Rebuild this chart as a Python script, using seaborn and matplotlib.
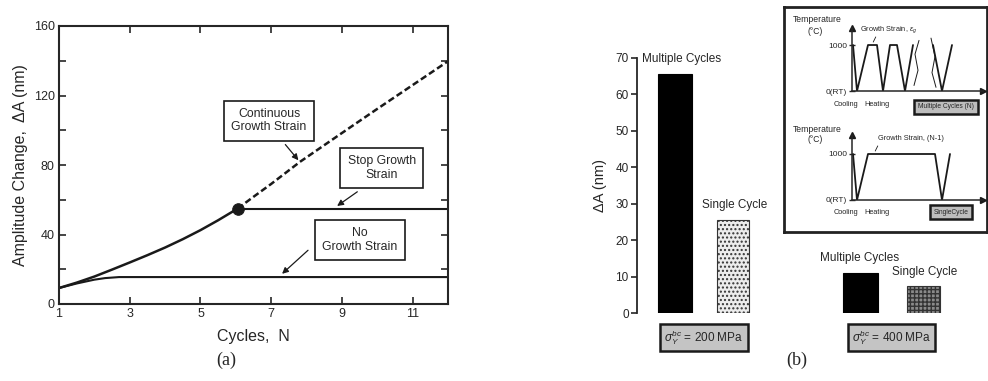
import matplotlib
matplotlib.use("Agg")
import matplotlib.pyplot as plt
import seaborn as sns
import numpy as np

# ---------------- data ----------------
# panel (a)
cont_solid_N = [1.0, 1.5, 2.0, 2.5, 3.0, 3.5, 4.0, 4.5, 5.0, 5.5, 6.05]
cont_solid_A = [9.2, 12.3, 15.8, 19.8, 23.9, 28.1, 32.5, 37.3, 42.5, 48.2, 54.9]
cont_dash_N = [6.05, 6.5, 7.0, 7.82, 9.0, 10.0, 11.0, 12.05]
cont_dash_A = [54.9, 61.7, 69.1, 81.9, 98.4, 112.3, 126.0, 140.4]
stop_N = [6.05, 12.0]
stop_A = [54.9, 54.9]
nogrowth_N = [1.0, 1.5, 2.0, 2.3, 2.7, 12.0]
nogrowth_A = [9.2, 11.8, 14.0, 14.9, 15.5, 15.5]
switch_point = (6.05, 54.9)

# panel (b) bars
bar_labels = ["Multiple Cycles", "Single Cycle", "Multiple Cycles", "Single Cycle"]
bar_values = [65.5, 25.5, 11.0, 7.4]
stress_labels = [r"$\sigma_Y^{bc}$ = 200 MPa", r"$\sigma_Y^{bc}$ = 400 MPa"]

# inset temperature histories (time in arbitrary units, T in deg C)
multi_t1 = [1, 5, 16, 25, 31, 38, 45, 53, 61]
multi_T1 = [1000, 0, 1000, 1000, 0, 1000, 1000, 0, 1000]
multi_t2 = [81, 90, 100]
multi_T2 = [1000, 0, 1000]
single_t = [1, 5, 16, 83, 90, 98]
single_T = [1000, 0, 1000, 1000, 0, 1000]

# ---------------- layout ----------------
W, H = 988, 381
sns.set_theme(style="ticks")
plt.rcParams["font.family"] = ["Liberation Sans", "DejaVu Sans"]
plt.rcParams["mathtext.fontset"] = "custom"
plt.rcParams["mathtext.rm"] = "Liberation Sans"
plt.rcParams["mathtext.it"] = "Liberation Sans:italic"

fig = plt.figure(figsize=(W / 100, H / 100), dpi=100)
fig.patch.set_facecolor("white")


def px_axes(x0, y0, x1, y1, **kw):
    return fig.add_axes([x0 / W, 1 - y1 / H, (x1 - x0) / W, (y1 - y0) / H], **kw)


def ftext(x, y, s, **kw):
    return fig.text(x / W, 1 - y / H, s, **kw)


# ---------------- panel (a) ----------------
ax = px_axes(59, 26, 448, 304)
sns.lineplot(x=cont_solid_N, y=cont_solid_A, ax=ax, color="k", lw=1.8)
sns.lineplot(x=cont_dash_N, y=cont_dash_A, ax=ax, color="k", lw=1.8)
ax.lines[-1].set_dashes([2.6, 1.3])
sns.lineplot(x=stop_N, y=stop_A, ax=ax, color="k", lw=1.5)
sns.lineplot(x=nogrowth_N, y=nogrowth_A, ax=ax, color="k", lw=1.5)
sns.scatterplot(x=[switch_point[0]], y=[switch_point[1]], ax=ax, color="k", s=70,
                zorder=5, edgecolor="k")
ax.set_xlim(1, 12)
ax.set_ylim(0, 160)
ax.set_xticks([1, 3, 5, 7, 9, 11])
ax.set_yticks(range(0, 161, 20))
ax.set_yticklabels([str(v) if v % 40 == 0 else "" for v in range(0, 161, 20)])
ax.tick_params(direction="in", length=5, width=1.2, top=True, right=True,
               labelsize=9, pad=3)
for s in ax.spines.values():
    s.set_linewidth(1.5)
ax.set_xlabel("Cycles,  N", fontsize=11.5, labelpad=6)
ax.set_ylabel("Amplitude Change,  \u0394A (nm)", fontsize=11.5, labelpad=4)

box = dict(boxstyle="square,pad=0.6", fc="white", ec="k", lw=1.2)
arrow = dict(arrowstyle="-|>", lw=0.9, color="k", mutation_scale=9)
ax.text(6.94, 105.5, "Continuous\nGrowth Strain", ha="center", va="center",
        fontsize=8.8, bbox=box, linespacing=1.15)
ax.annotate("", xy=(7.82, 81.5), xytext=(7.35, 93), arrowprops=arrow)
ax.text(10.13, 78.3, "Stop Growth\nStrain", ha="center", va="center",
        fontsize=8.8, bbox=box, linespacing=1.15)
ax.annotate("", xy=(8.8, 55.5), xytext=(9.5, 65.5), arrowprops=arrow)
ax.text(9.51, 36.8, "No\nGrowth Strain", ha="center", va="center",
        fontsize=8.8, bbox=box, linespacing=1.15)
ax.annotate("", xy=(7.25, 16.3), xytext=(8.1, 32), arrowprops=arrow)

# ---------------- panel (b) bars ----------------
bx = px_axes(637, 58, 957, 313)
bar_pos = [1.19, 3.0, 6.98, 8.95]
bar_w = [1.06, 1.0, 1.1, 1.03]
bar_fc = ["black", "#ececec", "black", "#8a8a8a"]
bar_ec = ["black", "#333333", "black", "#333333"]
bar_hatch = [None, "....", None, "++++"]
for p, v, w, fc, ec, h in zip(bar_pos, bar_values, bar_w, bar_fc, bar_ec, bar_hatch):
    sns.barplot(x=[p], y=[v], native_scale=True, width=w, ax=bx,
                color=fc, edgecolor=ec, linewidth=0.8, hatch=h, saturation=1)
for patch, fc in zip(bx.patches, bar_fc):
    patch.set_facecolor(fc)
bx.set_xlim(0, 10)
bx.set_ylim(0, 70)
bx.set_yticks(range(0, 71, 10))
bx.set_xticks([])
for side in ["top", "right", "bottom"]:
    bx.spines[side].set_visible(False)
bx.spines["left"].set_linewidth(1.3)
bx.spines["left"].set_bounds(0, 70)
bx.tick_params(axis="y", direction="out", length=4, width=1.2, labelsize=8.5, pad=2)
bx.set_ylabel("\u0394A (nm)", fontsize=10.5, labelpad=6)
bx.patch.set_alpha(0)

label_y = [bar_values[0] + 2.5, bar_values[1] + 2.5, bar_values[2] + 2.5, bar_values[3] + 2.2]
label_x = [1.38, 3.05, 6.95, 9.0]
for x, y, s in zip(label_x, label_y, bar_labels):
    bx.text(x, y, s, ha="center", va="bottom", fontsize=8.5)

gbox = dict(boxstyle="square,pad=0.35", fc="#c4c4c4", ec="k", lw=1.8)
bx.text(1.19 + 0.9, -4.2, stress_labels[0], ha="center", va="top", fontsize=8.5,
        bbox=gbox, clip_on=False)
bx.text(6.98 + 0.98, -4.2, stress_labels[1], ha="center", va="top", fontsize=8.5,
        bbox=gbox, clip_on=False)

# ---------------- inset ----------------
frame = px_axes(784, 7, 987, 232)
frame.set_xticks([])
frame.set_yticks([])
frame.set_facecolor("white")
for s in frame.spines.values():
    s.set_linewidth(2.0)
    s.set_color("#222222")


def wave_axes(y_top, y0, tmax):
    a = px_axes(852, y_top, 983, y0)
    a.set_xlim(0, 131)
    a.set_ylim(0, tmax)
    for side in ["top", "right"]:
        a.spines[side].set_visible(False)
    for side in ["left", "bottom"]:
        a.spines[side].set_linewidth(1.1)
    a.set_xticks([])
    a.set_yticks([0, 1000])
    a.set_yticklabels(["0(RT)", "1000"])
    a.tick_params(axis="y", direction="inout", length=5, width=1, labelsize=6, pad=1)
    a.plot(0, 1, "^", color="k", ms=4, transform=a.transAxes, clip_on=False)
    a.plot(1, 0, ">", color="k", ms=4, transform=a.transAxes, clip_on=False)
    a.patch.set_alpha(0)
    return a


wa = wave_axes(28, 91, 1370)
sns.lineplot(x=multi_t1, y=multi_T1, ax=wa, color="k", lw=1.3, sort=False)
sns.lineplot(x=multi_t2, y=multi_T2, ax=wa, color="k", lw=1.3, sort=False)
# break marks
wa.plot([67, 63, 66, 62], [1100, 800, 450, 120], color="k", lw=0.7)
wa.plot([79, 83, 80, 84], [1150, 750, 400, 80], color="k", lw=0.7)
wa.annotate("", xy=(20, 1010), xytext=(25, 1230),
            arrowprops=dict(arrowstyle="-", lw=0.6, color="k"))

wb = wave_axes(135, 200, 1413)
sns.lineplot(x=single_t, y=single_T, ax=wb, color="k", lw=1.3, sort=False)
wb.annotate("", xy=(22, 1010), xytext=(27, 1230),
            arrowprops=dict(arrowstyle="-", lw=0.6, color="k"))

fs_in = 6.2
ftext(817, 20, "Temperature", ha="center", va="center", fontsize=fs_in)
ftext(815, 32, "(\u00b0C)", ha="center", va="center", fontsize=fs_in)
ftext(860, 30, r"Growth Strain, $\epsilon_g$", ha="left", va="center", fontsize=5.3)
ftext(846, 105, "Cooling", ha="center", va="center", fontsize=5.3)
ftext(877, 105, "Heating", ha="center", va="center", fontsize=5.3)
ftext(946, 107, "Multiple Cycles (N)", ha="center", va="center", fontsize=4.8,
      bbox=dict(boxstyle="square,pad=0.55", fc="#bdbdbd", ec="k", lw=1.8))

ftext(817, 129, "Temperature", ha="center", va="center", fontsize=fs_in)
ftext(815, 140, "(\u00b0C)", ha="center", va="center", fontsize=fs_in)
ftext(878, 139, "Growth Strain, (N-1)", ha="left", va="center", fontsize=5.3)
ftext(846, 213, "Cooling", ha="center", va="center", fontsize=5.3)
ftext(877, 213, "Heating", ha="center", va="center", fontsize=5.3)
ftext(951, 212, "SingleCycle", ha="center", va="center", fontsize=4.8,
      bbox=dict(boxstyle="square,pad=0.55", fc="#bdbdbd", ec="k", lw=1.8))

# ---------------- captions ----------------
ftext(226, 360, "(a)", ha="center", va="center", fontsize=13,
      family=["Liberation Serif", "DejaVu Serif"])
ftext(797, 360, "(b)", ha="center", va="center", fontsize=13,
      family=["Liberation Serif", "DejaVu Serif"])

fig.savefig("out.png", dpi=100)
